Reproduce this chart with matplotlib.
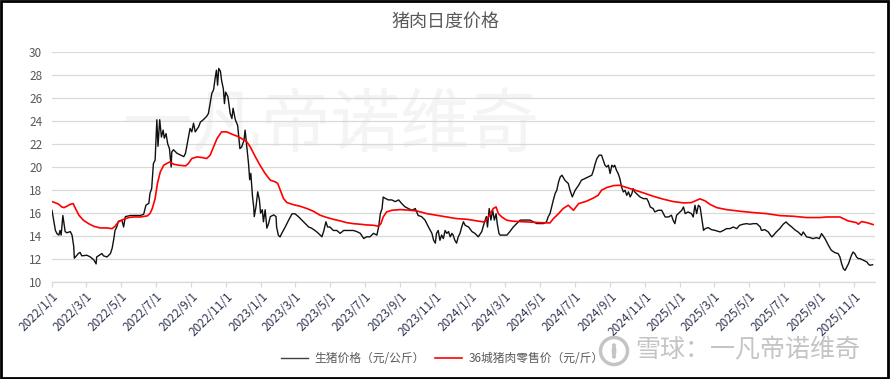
"""Daily pork price chart: live hog price vs 36-city retail pork price."""

import matplotlib
matplotlib.use("Agg")
import matplotlib.pyplot as plt
import matplotlib.dates as mdates
from matplotlib.patches import Rectangle, Circle, Arc
import pandas as pd

plt.rcParams['font.family'] = ['Noto Sans CJK SC', 'DejaVu Sans']

START = "2022-01-01"

# live hog price (yuan/kg), days counted from START
hog_days = [0, 3, 6, 9, 12, 14, 16, 19, 23, 26, 32, 35, 38, 39, 41, 46, 49, 52, 61, 67,
            73, 77, 78, 81, 87, 90, 96, 102, 105, 108, 110, 113, 116, 122, 125, 128, 137, 154, 160, 164,
            169, 171, 174, 177, 180, 183, 185, 188, 191, 194, 196, 199, 202, 205, 208, 209, 212, 218, 224, 230,
            233, 235, 238, 241, 244, 247, 250, 256, 259, 264, 270, 273, 276, 279, 282, 285, 287, 289, 291, 294,
            296, 299, 301, 303, 307, 311, 314, 316, 320, 324, 326, 328, 331, 335, 337, 340, 343, 345, 347, 350,
            352, 353, 356, 359, 362, 364, 367, 369, 372, 375, 378, 381, 387, 391, 392, 395, 398, 401, 407, 413,
            419, 424, 430, 436, 442, 448, 453, 459, 465, 471, 474, 478, 481, 485, 491, 497, 503, 509, 514, 520,
            526, 532, 538, 544, 549, 555, 561, 567, 570, 573, 576, 578, 581, 587, 593, 599, 605, 610, 616, 622,
            628, 634, 639, 645, 651, 657, 663, 666, 669, 671, 674, 677, 680, 683, 686, 689, 692, 695, 698, 700,
            703, 706, 709, 712, 715, 718, 721, 727, 733, 738, 744, 750, 754, 758, 760, 763, 766, 769, 772, 775,
            777, 780, 782, 788, 794, 799, 805, 811, 817, 823, 828, 834, 840, 846, 852, 858, 863, 866, 869, 872,
            875, 878, 881, 884, 887, 890, 895, 901, 904, 908, 913, 919, 924, 930, 936, 942, 945, 948, 951, 955,
            959, 962, 965, 968, 971, 974, 977, 980, 982, 985, 988, 991, 994, 997, 1000, 1003, 1006, 1009, 1012, 1014,
            1017, 1020, 1026, 1032, 1038, 1041, 1044, 1049, 1052, 1058, 1064, 1070, 1076, 1081, 1084, 1087, 1090, 1093, 1099, 1102,
            1105, 1110, 1116, 1119, 1122, 1125, 1128, 1131, 1134, 1137, 1140, 1145, 1151, 1157, 1166, 1172, 1177, 1183, 1189, 1195,
            1200, 1206, 1212, 1218, 1224, 1230, 1236, 1238, 1244, 1250, 1256, 1259, 1264, 1270, 1276, 1281, 1285, 1291, 1296, 1302,
            1308, 1311, 1317, 1323, 1328, 1334, 1339, 1343, 1349, 1355, 1360, 1366, 1372, 1375, 1378, 1381, 1384, 1387, 1390, 1392,
            1395, 1398, 1401, 1404, 1407, 1410, 1416, 1422, 1424, 1427, 1432]
hog_price = [16.25, 15.4, 14.5, 14.2, 14.1, 14.5, 14.1, 15.8, 14.4, 14.3, 14.4, 14.1, 13.1, 12.1, 12.2, 12.5, 12.6, 12.3, 12.35, 12.2,
             11.95, 11.6, 12.2, 12.3, 12.5, 12.3, 12.2, 12.5, 12.95, 13.8, 14.5, 14.8, 15.3, 15.4, 14.8, 15.7, 15.8, 15.8, 15.9, 16.7,
             16.85, 17.7, 18.15, 20.3, 20.6, 24.1, 21.8, 24.1, 22.6, 23.2, 22.5, 22.9, 22.0, 21.6, 20.0, 21.3, 21.5, 21.2, 21.05, 20.9,
             21.2, 21.75, 22.6, 23.35, 23.05, 23.8, 23.05, 23.5, 23.9, 24.1, 24.4, 24.65, 25.5, 26.4, 26.7, 27.8, 28.4, 27.1, 28.55, 28.3,
             27.5, 26.8, 25.5, 26.5, 26.1, 24.65, 24.2, 25.1, 24.1, 23.6, 22.6, 21.6, 21.75, 22.3, 23.2, 21.75, 20.3, 18.9, 19.45, 17.4,
             16.55, 15.7, 16.55, 17.85, 17.15, 16.0, 16.3, 15.25, 16.3, 14.7, 15.1, 15.7, 15.85, 15.7, 14.8, 14.1, 13.94, 14.25, 14.8, 15.4,
             15.95, 15.95, 15.7, 15.4, 15.1, 14.8, 14.7, 14.5, 14.25, 13.95, 14.4, 15.25, 14.8, 14.8, 14.5, 14.5, 14.25, 14.5, 14.5, 14.5,
             14.5, 14.4, 14.25, 13.8, 13.95, 13.95, 14.25, 14.1, 14.8, 15.95, 16.4, 17.4, 17.3, 17.15, 17.15, 17.0, 17.15, 16.85, 16.55, 16.4,
             16.25, 16.4, 15.8, 15.7, 15.4, 14.8, 14.25, 13.65, 13.4, 14.25, 14.5, 13.65, 14.1, 13.8, 14.5, 14.25, 14.4, 13.95, 14.25, 14.1,
             13.65, 13.4, 13.95, 14.25, 14.8, 15.25, 14.95, 14.8, 14.4, 14.25, 13.95, 14.4, 15.1, 15.7, 14.8, 16.4, 15.4, 16.25, 15.4, 15.95,
             15.1, 14.25, 14.1, 14.1, 14.1, 14.4, 14.8, 15.1, 15.4, 15.4, 15.4, 15.4, 15.25, 15.1, 15.1, 15.1, 15.25, 15.7, 15.95, 16.55,
             17.15, 17.7, 18.0, 18.7, 19.15, 19.29, 18.86, 18.57, 17.99, 17.41, 17.99, 18.42, 18.86, 19.0, 19.15, 19.29, 19.73, 20.3, 20.74, 21.03,
             21.03, 20.59, 20.16, 20.01, 20.16, 19.44, 20.16, 20.01, 20.16, 19.73, 19.44, 19.0, 18.28, 17.84, 17.99, 17.55, 17.84, 17.41, 17.7, 18.13,
             17.84, 17.7, 17.41, 17.26, 17.26, 16.97, 16.54, 16.4, 16.11, 16.25, 16.25, 15.67, 15.67, 15.82, 15.38, 15.09, 15.82, 15.96, 16.25, 16.54,
             15.96, 16.11, 15.96, 15.67, 16.69, 15.96, 16.69, 16.54, 15.53, 14.51, 14.66, 14.75, 14.57, 14.51, 14.37, 14.51, 14.66, 14.66, 14.8, 14.66,
             14.95, 15.04, 15.09, 15.04, 15.09, 15.09, 14.8, 14.51, 14.57, 14.37, 13.94, 14.08, 14.37, 14.66, 15.04, 15.24, 15.04, 14.8, 14.57, 14.37,
             14.08, 14.37, 13.94, 13.88, 13.79, 13.88, 13.79, 14.23, 13.79, 13.21, 12.78, 12.58, 12.49, 12.2, 11.62, 11.19, 11.04, 11.34, 11.62, 11.91,
             12.34, 12.63, 12.49, 12.2, 12.06, 12.06, 11.91, 11.77, 11.62, 11.48, 11.53]

# 36-city retail pork price (yuan/jin)
retail_days = [0, 6, 12, 17, 21, 26, 32, 37, 41, 47, 55, 64, 73, 84, 96, 105, 110, 116, 125, 134,
               142, 154, 166, 171, 175, 180, 184, 189, 195, 200, 206, 212, 221, 233, 238, 244, 253, 262, 270, 276,
               282, 288, 296, 305, 314, 323, 331, 340, 346, 355, 363, 372, 381, 390, 394, 398, 404, 410, 421, 433,
               445, 456, 468, 480, 491, 503, 514, 526, 538, 549, 561, 570, 574, 578, 584, 593, 608, 625, 637, 654,
               671, 689, 706, 724, 741, 753, 757, 765, 770, 775, 779, 785, 794, 805, 828, 852, 869, 875, 884, 892,
               901, 910, 919, 933, 945, 953, 959, 968, 980, 991, 1003, 1014, 1032, 1049, 1067, 1084, 1102, 1116, 1125, 1131,
               1140, 1148, 1160, 1177, 1200, 1224, 1247, 1270, 1294, 1317, 1340, 1352, 1375, 1381, 1389, 1404, 1407, 1413, 1422, 1433]
retail_price = [17.0, 16.9, 16.77, 16.54, 16.48, 16.6, 16.77, 16.83, 16.4, 15.82, 15.38, 15.09, 14.86, 14.72, 14.72, 14.66, 14.86, 15.24, 15.47, 15.62,
                15.67, 15.67, 15.76, 15.96, 16.4, 17.27, 18.57, 19.58, 20.16, 20.3, 20.45, 20.25, 20.16, 20.1, 20.3, 20.74, 20.88, 20.82, 20.74, 21.03,
                21.75, 22.47, 23.05, 23.05, 22.85, 22.68, 22.47, 22.19, 21.75, 20.88, 20.16, 19.44, 18.86, 18.71, 18.57, 18.05, 17.27, 16.92, 16.74, 16.6,
                16.4, 16.17, 15.82, 15.62, 15.47, 15.33, 15.18, 15.09, 15.04, 14.98, 14.95, 14.86, 15.09, 15.67, 16.11, 16.25, 16.31, 16.25, 16.19, 15.96,
                15.82, 15.67, 15.53, 15.47, 15.33, 15.24, 15.33, 15.96, 16.4, 16.54, 15.96, 15.67, 15.38, 15.3, 15.24, 15.18, 15.15, 15.53, 15.96, 16.4,
                16.69, 16.25, 16.83, 17.04, 17.32, 17.55, 17.99, 18.22, 18.39, 18.42, 18.22, 18.05, 17.76, 17.47, 17.21, 17.01, 16.89, 16.92, 17.12, 17.24,
                17.06, 16.77, 16.48, 16.31, 16.17, 16.05, 15.96, 15.79, 15.73, 15.62, 15.62, 15.67, 15.67, 15.53, 15.33, 15.18, 15.04, 15.27, 15.18, 15.01]

title = "猪肉日度价格"
hog_label = "生猪价格（元/公斤）"
retail_label = "36城猪肉零售价（元/斤）"
y_ticks = [10, 12, 14, 16, 18, 20, 22, 24, 26, 28, 30]

start = pd.Timestamp(START)
hog_dates = start + pd.to_timedelta(hog_days, unit="D")
retail_dates = start + pd.to_timedelta(retail_days, unit="D")

fig = plt.figure(figsize=(8.9, 3.79), dpi=100)
ax = fig.add_axes([0.0584, 0.255, 0.9246, 0.6085])

# faint watermark inside the plot
ax.text(0.34, 0.675, "一凡帝诺维奇", transform=ax.transAxes, fontsize=50,
        color="#f4f4f4", ha="center", va="center", zorder=0)

ax.plot(hog_dates, hog_price, color="#111111", lw=1.0, label=hog_label, zorder=3)
ax.plot(retail_dates, retail_price, color="#ff0000", lw=1.2, label=retail_label, zorder=4)

ax.set_ylim(10, 30)
ax.set_yticks(y_ticks)
ax.set_xlim(start, start + pd.Timedelta(days=1436))
ax.xaxis.set_major_locator(mdates.MonthLocator(bymonth=[1, 3, 5, 7, 9, 11], bymonthday=1))


def fmt_date(x, pos=None):
    d = mdates.num2date(x)
    return f"{d.year}/{d.month}/{d.day}"


ax.xaxis.set_major_formatter(plt.FuncFormatter(fmt_date))
ax.grid(axis="y", color="#d9d9d9", lw=0.9, zorder=1)
for side in ["top", "right", "left"]:
    ax.spines[side].set_visible(False)
ax.spines["bottom"].set_color("#d9d9d9")
ax.spines["bottom"].set_linewidth(0.9)
ax.tick_params(axis="y", length=0, pad=7, labelsize=8.5, labelcolor="#595959")
ax.tick_params(axis="x", length=3.5, color="#d9d9d9", width=0.9, pad=2,
               labelsize=8.5, labelcolor="#2f3550")
for lbl in ax.get_xticklabels():
    lbl.set_rotation(45)
    lbl.set_ha("right")
    lbl.set_va("top")
    lbl.set_rotation_mode("anchor")

fig.text(0.5, 0.942, title, ha="center", va="center", fontsize=13, color="#595959")

leg = fig.legend(loc="center", bbox_to_anchor=(0.497, 0.053), ncol=2, frameon=False,
                 fontsize=8.5, handlelength=2.3, columnspacing=0.9, handletextpad=0.5)
for t in leg.get_texts():
    t.set_color("#595959")
leg.get_lines()[0].set_color("#404040")

# "xueqiu" signature, bottom right
fig.text(0.714, 0.077, "雪球：一凡帝诺维奇", ha="left", va="center", fontsize=18,
         color="#c4c4c4")
logo_xy = (6.14, 0.28)
fig.patches.append(Circle(logo_xy, 0.135, transform=fig.dpi_scale_trans,
                          fill=False, ec="#c4c4c4", lw=2.5))
fig.patches.append(Arc((6.10, 0.28), 0.10, 0.16, angle=0, theta1=-70, theta2=70,
                       transform=fig.dpi_scale_trans, ec="#c4c4c4", lw=2))
fig.patches.append(Arc((6.18, 0.28), 0.10, 0.16, angle=0, theta1=110, theta2=250,
                       transform=fig.dpi_scale_trans, ec="#c4c4c4", lw=2))

# outer frame
fig.patches.append(Rectangle((0.001, 0.002), 0.997, 0.996, transform=fig.transFigure,
                             fill=False, ec="black", lw=2))

fig.savefig("out.png", dpi=100)
plt.close(fig)
